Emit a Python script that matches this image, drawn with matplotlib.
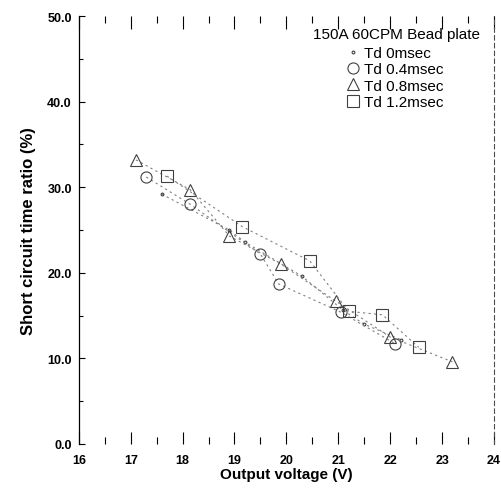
import numpy as np
import matplotlib
matplotlib.use("Agg")
import matplotlib.pyplot as plt
from matplotlib.ticker import MultipleLocator

plt.rcParams["font.family"] = ["Liberation Sans", "DejaVu Sans"]

# ── Data ──────────────────────────────────────────────────────────────────
v_td00 = [17.6, 18.9, 19.2, 20.3, 21.1, 21.5, 22.2]
r_td00 = [29.2, 25.0, 23.6, 19.6, 15.6, 14.0, 12.2]

v_td04 = [17.3, 18.15, 19.5, 19.85, 21.05, 22.1]
r_td04 = [31.2, 28.0, 22.2, 18.7, 15.4, 11.7]

v_td08 = [17.1, 18.15, 18.9, 19.9, 20.95, 22.0, 23.2]
r_td08 = [33.2, 29.7, 24.3, 21.0, 16.7, 12.5, 9.6]

v_td12 = [17.7, 19.15, 20.45, 21.2, 21.85, 22.55]
r_td12 = [31.3, 25.4, 21.4, 15.5, 15.1, 11.3]

series = [
    ("Td 0msec",   v_td00, r_td00, "."),
    ("Td 0.4msec", v_td04, r_td04, "o"),
    ("Td 0.8msec", v_td08, r_td08, "^"),
    ("Td 1.2msec", v_td12, r_td12, "s"),
]

fig = plt.figure(figsize=(5.02, 4.89), dpi=100)
ax = fig.add_axes([0.157, 0.09, 0.827, 0.875])

for label, v, r, m in series:
    ax.plot(v, r, linestyle=(0, (2, 3)), color="0.5", linewidth=0.8)
    ax.plot(v, r, linestyle="none", marker=m, markersize=8 if m != "." else 4,
            markerfacecolor="none", markeredgecolor="0.25", markeredgewidth=0.8,
            color="0.25", label=label)

ax.set_xlim(16, 24)
ax.set_ylim(0, 50)
ax.xaxis.set_major_locator(MultipleLocator(1))
ax.xaxis.set_minor_locator(MultipleLocator(0.5))
ax.yaxis.set_major_locator(MultipleLocator(10))
ax.yaxis.set_minor_locator(MultipleLocator(5))
ax.yaxis.set_major_formatter(plt.FormatStrFormatter("%.1f"))
ax.tick_params(which="both", direction="in", top=True, right=False,
               labelsize=9, width=0.8)
ax.tick_params(which="major", length=9)
ax.tick_params(which="minor", length=5)
ax.tick_params(axis="x", which="major", pad=7)
ax.tick_params(axis="y", which="major", pad=5, length=4)
ax.tick_params(axis="y", which="minor", length=3)
for lbl in ax.get_xticklabels() + ax.get_yticklabels():
    lbl.set_fontweight("bold")

ax.spines["top"].set_visible(False)
ax.spines["right"].set_linestyle((0, (4, 3)))
ax.spines["right"].set_color("0.3")
ax.spines["left"].set_linewidth(0.9)
ax.spines["bottom"].set_visible(False)

ax.set_xlabel("Output voltage (V)", fontsize=11, fontweight="bold", labelpad=1)
ax.set_ylabel("Short circuit time ratio (%)", fontsize=12, fontweight="bold",
              labelpad=8)

# legend title as its own text, entries centred underneath
ax.text(0.966, 0.958, "150A 60CPM Bead plate", transform=ax.transAxes,
        ha="right", va="center", fontsize=11)
leg = ax.legend(loc="upper center", bbox_to_anchor=(0.762, 0.93),
                frameon=False, fontsize=11,
                handlelength=0.8, handletextpad=0.3, labelspacing=0.15,
                borderaxespad=0.0, borderpad=0.0)

fig.savefig("out.png", dpi=100)
